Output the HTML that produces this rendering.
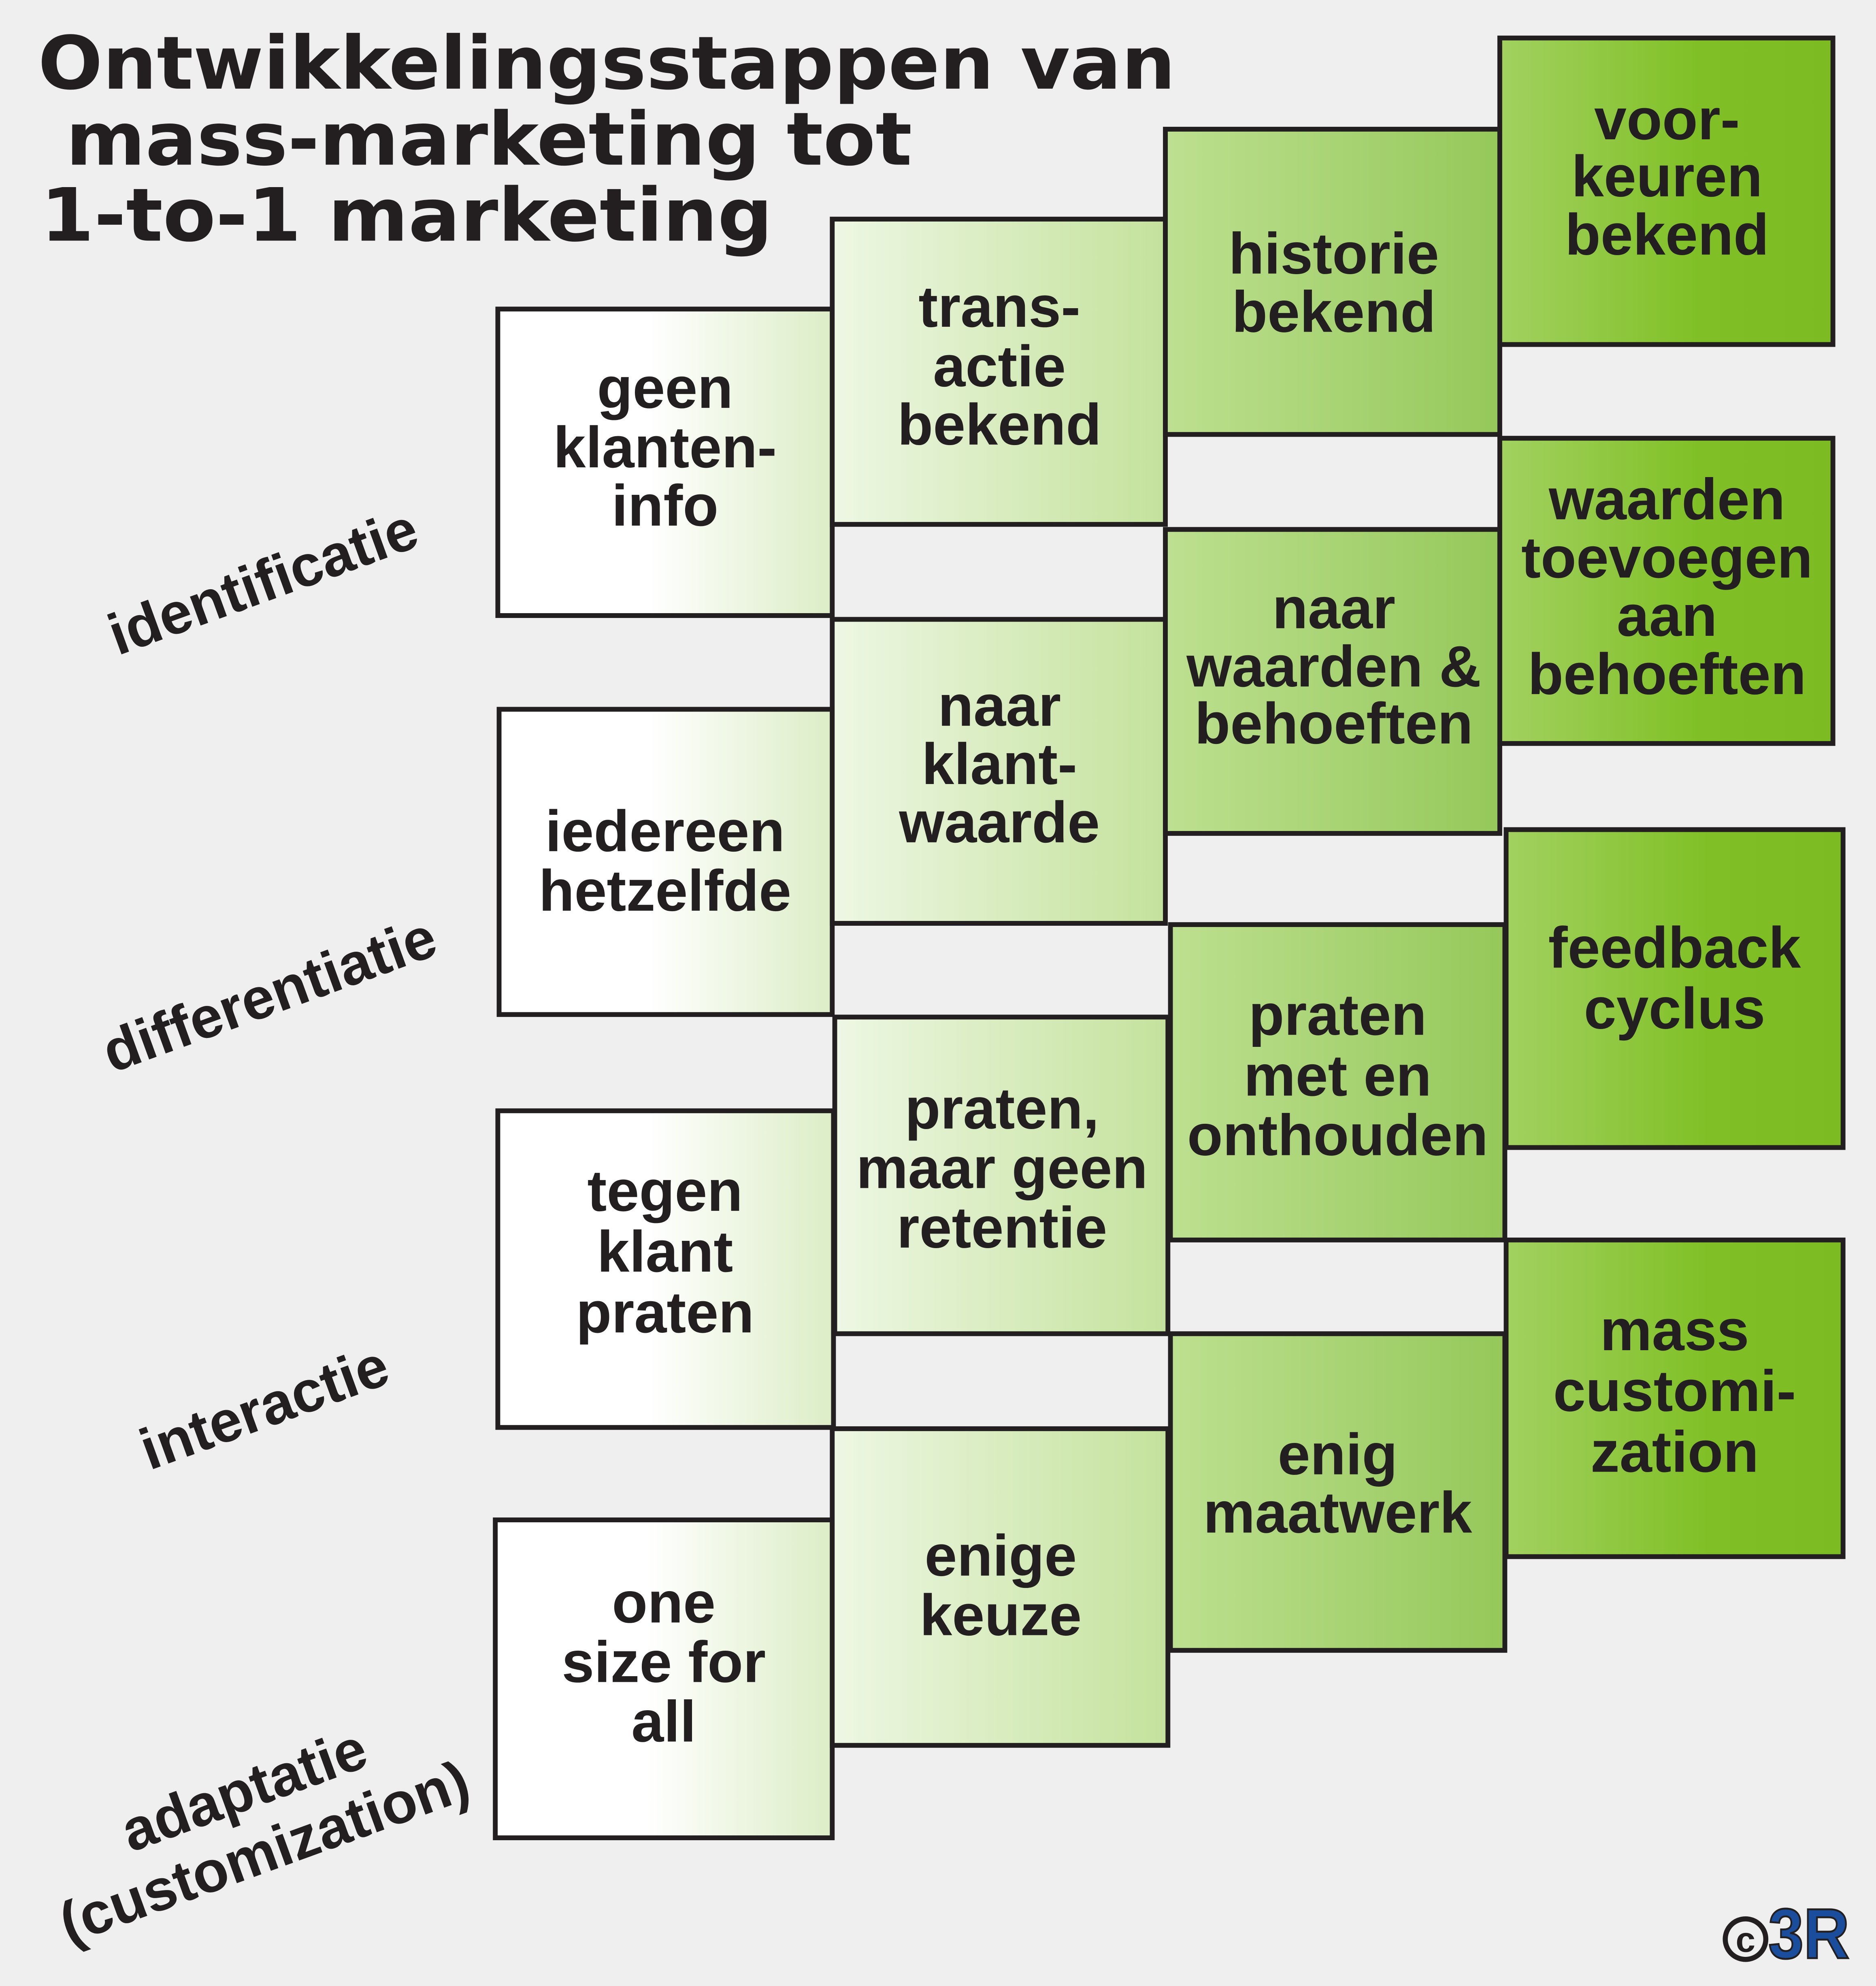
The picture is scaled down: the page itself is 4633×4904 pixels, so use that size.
<!DOCTYPE html>
<html><head><meta charset="utf-8"><style>
html,body{margin:0;padding:0;background:#efefef;}
svg{display:block}
.t{font-family:"Liberation Sans",Arial,sans-serif;font-weight:bold;font-size:46px;fill:#231f20;text-anchor:middle}
.h{font-family:"DejaVu Sans","Liberation Sans",sans-serif;font-weight:bold;font-size:58px;fill:#231f20}
.r{font-family:"Liberation Sans",Arial,sans-serif;font-weight:bold;font-size:46px;fill:#231f20;text-anchor:middle}
rect.b{stroke:#231f20;stroke-width:3.8}
</style></head><body>
<svg width="4633" height="4904" viewBox="0 0 1481 1568" preserveAspectRatio="none" xmlns="http://www.w3.org/2000/svg">
<defs>
<linearGradient id="g1" x1="0" x2="1" y1="0" y2="0"><stop offset="0" stop-color="#ffffff"/><stop offset="0.45" stop-color="#ffffff"/><stop offset="1" stop-color="#dcedc6"/></linearGradient>
<linearGradient id="g2" x1="0" x2="1" y1="0" y2="0"><stop offset="0" stop-color="#eef7e4"/><stop offset="1" stop-color="#c4e29c"/></linearGradient>
<linearGradient id="g3" x1="0" x2="1" y1="0" y2="0"><stop offset="0" stop-color="#bde090"/><stop offset="1" stop-color="#95c85a"/></linearGradient>
<linearGradient id="g4" x1="0" x2="1" y1="0" y2="0"><stop offset="0" stop-color="#a2d160"/><stop offset="0.6" stop-color="#80c026"/><stop offset="1" stop-color="#7cbc22"/></linearGradient>
</defs>
<rect width="1481" height="1568" fill="#efefef"/>
<text class="h" x="30" y="70" textLength="898" lengthAdjust="spacingAndGlyphs">Ontwikkelingsstappen van</text>
<text class="h" x="52" y="130" textLength="668" lengthAdjust="spacingAndGlyphs">mass-marketing tot</text>
<text class="h" x="32" y="190" textLength="578" lengthAdjust="spacingAndGlyphs">1-to-1 marketing</text>

<rect class="b" x="393" y="244" width="264" height="242" fill="url(#g1)"/>
<rect class="b" x="394" y="560" width="263" height="241" fill="url(#g1)"/>
<rect class="b" x="393" y="877" width="265" height="250" fill="url(#g1)"/>
<rect class="b" x="391" y="1200" width="266" height="251" fill="url(#g1)"/>
<rect class="b" x="657" y="173" width="263" height="241" fill="url(#g2)"/>
<rect class="b" x="657" y="489" width="263" height="240" fill="url(#g2)"/>
<rect class="b" x="659" y="803" width="263" height="250" fill="url(#g2)"/>
<rect class="b" x="657" y="1128" width="265" height="250" fill="url(#g2)"/>
<rect class="b" x="920" y="102" width="264" height="241" fill="url(#g3)"/>
<rect class="b" x="920" y="418" width="264" height="240" fill="url(#g3)"/>
<rect class="b" x="924" y="730" width="264" height="249" fill="url(#g3)"/>
<rect class="b" x="924" y="1053" width="264" height="250" fill="url(#g3)"/>
<rect class="b" x="1184" y="30" width="263" height="242" fill="url(#g4)"/>
<rect class="b" x="1184" y="346" width="263" height="241" fill="url(#g4)"/>
<rect class="b" x="1189" y="655" width="266" height="251" fill="url(#g4)"/>
<rect class="b" x="1189" y="979" width="266" height="250" fill="url(#g4)"/>

<g class="t">
<text x="525" y="322">geen</text><text x="525" y="369">klanten-</text><text x="525" y="415">info</text>
<text x="525" y="672">iedereen</text><text x="525" y="719">hetzelfde</text>
<text x="525" y="956">tegen</text><text x="525" y="1004">klant</text><text x="525" y="1052">praten</text>
<text x="524" y="1281">one</text><text x="524" y="1328">size for</text><text x="524" y="1375">all</text>

<text x="789" y="258">trans-</text><text x="789" y="305">actie</text><text x="789" y="351">bekend</text>
<text x="789" y="573">naar</text><text x="789" y="619">klant-</text><text x="789" y="665">waarde</text>
<text x="791" y="891">praten,</text><text x="791" y="938">maar geen</text><text x="791" y="985">retentie</text>
<text x="790" y="1244">enige</text><text x="790" y="1291">keuze</text>

<text x="1053" y="216">historie</text><text x="1053" y="262">bekend</text>
<text x="1053" y="496">naar</text><text x="1053" y="542">waarden &amp;</text><text x="1053" y="587">behoeften</text>
<text x="1056" y="817">praten</text><text x="1056" y="865">met en</text><text x="1056" y="912">onthouden</text>
<text x="1056" y="1164">enig</text><text x="1056" y="1210">maatwerk</text>

<text x="1316" y="110">voor-</text><text x="1316" y="155">keuren</text><text x="1316" y="201">bekend</text>
<text x="1316" y="410">waarden</text><text x="1316" y="456">toevoegen</text><text x="1316" y="502">aan</text><text x="1316" y="548">behoeften</text>
<text x="1322" y="764">feedback</text><text x="1322" y="812">cyclus</text>
<text x="1322" y="1066">mass</text><text x="1322" y="1114">customi-</text><text x="1322" y="1162">zation</text>
</g>

<g class="r">
<text transform="translate(213,474) rotate(-20)">identificatie</text>
<text transform="translate(218,800) rotate(-20)">differentiatie</text>
<text transform="translate(214,1126) rotate(-20)">interactie</text>
<text transform="translate(198,1428) rotate(-20)">adaptatie</text>
<text transform="translate(214,1477) rotate(-20)">(customization)</text>
</g>

<circle cx="1378" cy="1531" r="16" fill="none" stroke="#231f20" stroke-width="4"/>
<text x="1378" y="1541" font-family="Liberation Sans,sans-serif" font-weight="bold" font-size="28" text-anchor="middle" fill="#231f20">c</text>
<text x="1396" y="1546" font-family="Liberation Sans,sans-serif" font-weight="bold" font-size="56" fill="#1a4e9c" stroke="#231f20" stroke-width="1.5" textLength="64" lengthAdjust="spacingAndGlyphs">3R</text>
</svg>
</body></html>
